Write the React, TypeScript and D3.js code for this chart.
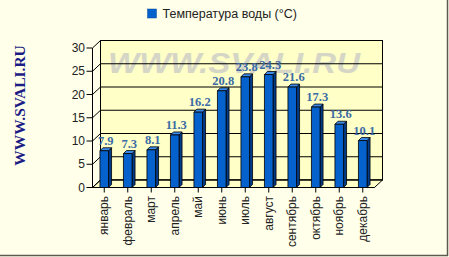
import React from "react";
import * as d3 from "d3";

const months = ["январь", "февраль", "март", "апрель", "май", "июнь", "июль", "август", "сентябрь", "октябрь", "ноябрь", "декабрь"];
const values = [7.9, 7.3, 8.1, 11.3, 16.2, 20.8, 23.8, 24.3, 21.6, 17.3, 13.6, 10.1];
const yTicks = [0, 5, 10, 15, 20, 25, 30];
const seriesName = "Температура воды (°C)";
const watermark = "WWW.SVALI.RU";

const W = 449;
const H = 257;
const DX = 8;
const DY = -7.5;
const BAR_W = 8.6;
const BAR_D = 3;

export default function App() {
  const x = d3.scaleBand<string>().domain(months).range([92.5, 374.5]);
  const y = d3.scaleLinear().domain([0, 30]).range([187.5, 48]);
  const x0 = 92.5, x1 = 374.5, y0 = y(0), yTop = y(30);
  const barFront = "#0562CC";
  const barTop = "#3C8BEA";
  const barSide = "#003A88";
  const labelColor = "#3A6BA5";

  return (
    <svg width={W} height={H} style={{ position: "absolute", left: 0, top: 0 }} fontFamily="Arial, 'Liberation Sans', sans-serif">
      <rect x={0} y={0} width={W} height={H} fill="#FFFFEA" />
      <line x1={447.5} y1={0} x2={447.5} y2={256} stroke="#5a5a50" strokeWidth={1.5} />
      <line x1={0} y1={255.5} x2={448} y2={255.5} stroke="#5a5a50" strokeWidth={1.5} />

      {/* legend */}
      <rect x={147.5} y={9} width={9} height={9} fill={barFront} stroke="#0a4a9a" strokeWidth={0.5} />
      <text x={162.5} y={18.3} fontSize={12.5} fill="#222">{seriesName}</text>

      {/* vertical watermark */}
      <text transform="translate(24.5,105.5) rotate(-90)" textAnchor="middle" fontFamily="'Liberation Serif', 'Times New Roman', serif" fontWeight="bold" fontSize={15.5} fill="#1c1c86">{watermark}</text>

      {/* back wall */}
      <rect x={x0 + DX} y={yTop + DY} width={x1 - x0} height={y0 - yTop} fill="#FFFFC8" stroke="#000" strokeWidth={1} />
      {/* floor */}
      <polygon points={`${x0},${y0} ${x1},${y0} ${x1 + DX},${y0 + DY} ${x0 + DX},${y0 + DY}`} fill="#FFFFC8" stroke="#000" strokeWidth={1} />

      {/* big watermark */}
      <text x={234} y={72.5} textAnchor="middle" fontSize={29} fontWeight="bold" fontStyle="italic" fill="#d6d6c6" textLength={252} lengthAdjust="spacingAndGlyphs">{watermark}</text>

      {/* gridlines on back wall and left wall diagonals */}
      {yTicks.map((t) => (
        <g key={t}>
          <line x1={x0 + DX} x2={x1 + DX} y1={y(t) + DY} y2={y(t) + DY} stroke="#000" strokeWidth={1} />
          <line x1={x0} x2={x0 + DX} y1={y(t)} y2={y(t) + DY} stroke="#000" strokeWidth={1} />
          <line x1={86.5} x2={x0} y1={y(t)} y2={y(t)} stroke="#000" strokeWidth={1} />
          <text x={85} y={y(t)} dy="0.35em" textAnchor="end" fontSize={12} fill="#222">{t}</text>
        </g>
      ))}
      <line x1={x0} x2={x0} y1={yTop} y2={y0} stroke="#000" strokeWidth={1} />
      <line x1={x0} x2={x1} y1={y0} y2={y0} stroke="#000" strokeWidth={1} />

      {/* bars */}
      {months.map((m, i) => {
        const cx = (x(m) as number) + x.bandwidth() / 2;
        const bx0 = cx - BAR_W / 2;
        const bx1 = cx + BAR_W / 2;
        const top = y(values[i]);
        return (
          <g key={m} stroke="#000" strokeWidth={0.8} strokeLinejoin="round">
            <polygon points={`${bx1},${top} ${bx1 + BAR_D},${top - BAR_D} ${bx1 + BAR_D},${y0 - BAR_D} ${bx1},${y0}`} fill={barSide} />
            <polygon points={`${bx0},${top} ${bx0 + BAR_D},${top - BAR_D} ${bx1 + BAR_D},${top - BAR_D} ${bx1},${top}`} fill={barTop} />
            <rect x={bx0} y={top} width={BAR_W} height={y0 - top} fill={barFront} />
          </g>
        );
      })}

      {/* value labels */}
      {months.map((m, i) => {
        const cx = (x(m) as number) + x.bandwidth() / 2;
        return (
          <text key={m} x={cx + 1.5} y={y(values[i]) - 6} textAnchor="middle" fontFamily="'Liberation Serif', 'Times New Roman', serif" fontWeight="bold" fontSize={12.5} fill={labelColor}>
            {values[i].toFixed(1)}
          </text>
        );
      })}

      {/* category ticks and labels */}
      {months.map((m) => {
        const cx = (x(m) as number) + x.bandwidth() / 2;
        return (
          <g key={m}>
            <line x1={cx} x2={cx} y1={y0} y2={y0 + 5} stroke="#000" strokeWidth={1} />
            <text transform={`translate(${cx},196) rotate(-90)`} dy="0.35em" textAnchor="end" fontSize={12} fill="#222">{m}</text>
          </g>
        );
      })}
    </svg>
  );
}
